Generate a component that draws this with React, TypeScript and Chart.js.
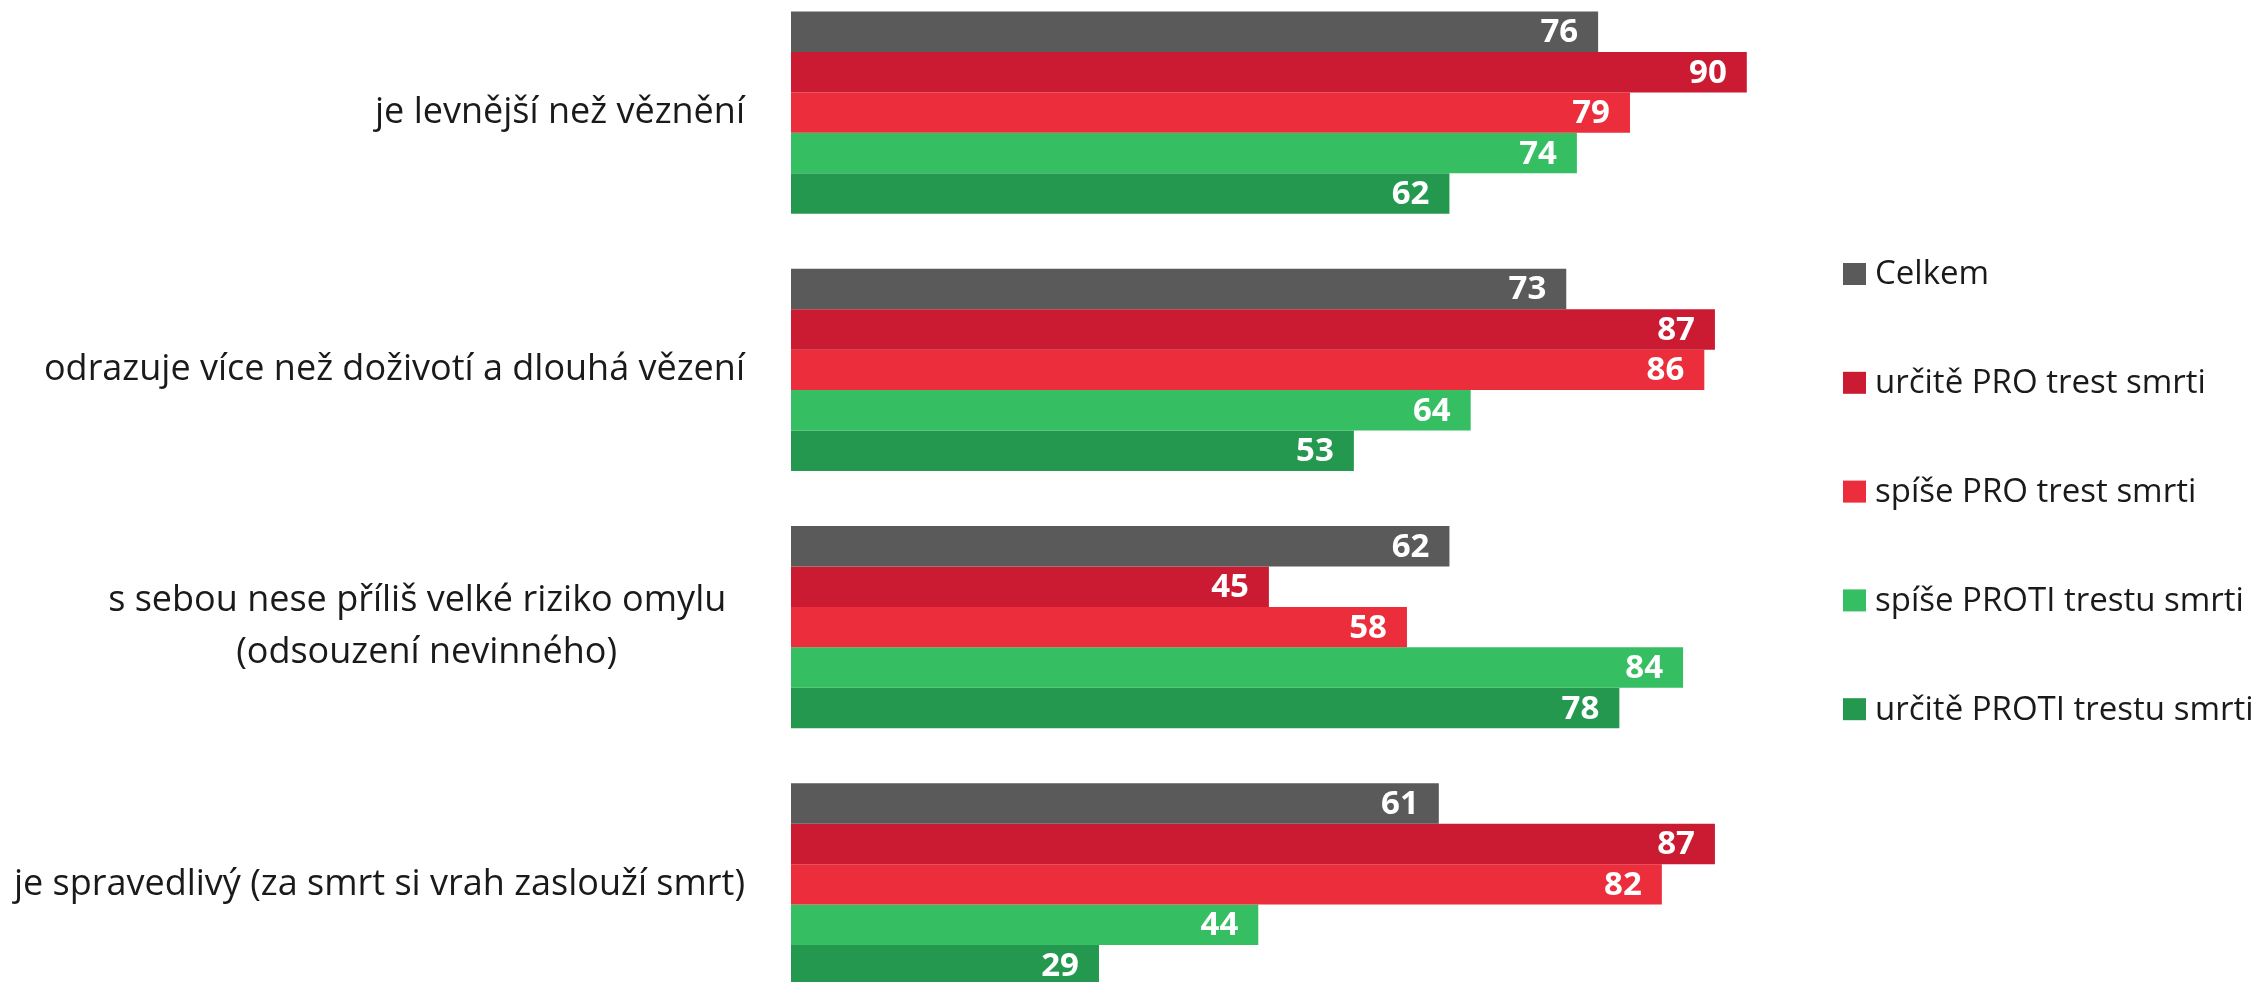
import React, { useEffect, useRef } from "react";
import { Chart, registerables } from "chart.js";

Chart.register(...registerables);

const categories: string[][] = [
  ["je levnější než věznění"],
  ["odrazuje více než doživotí a dlouhá vězení"],
  ["s sebou nese příliš velké riziko omylu  ", "(odsouzení nevinného)"],
  ["je spravedlivý (za smrt si vrah zaslouží smrt)"],
];

const seriesNames = [
  "Celkem",
  "určitě PRO trest smrti",
  "spíše PRO trest smrti",
  "spíše PROTI trestu smrti",
  "určitě PROTI trestu smrti",
];

const celkem = [76, 73, 62, 61];
const urcitePro = [90, 87, 45, 87];
const spisePro = [79, 86, 58, 82];
const spiseProti = [74, 64, 84, 44];
const urciteProti = [62, 53, 78, 29];

const seriesColors = ["#5A5A5A", "#CB1B33", "#EC2D3C", "#35BE62", "#25984F"];

const FONT = '"Open Sans", "Noto Sans", sans-serif';

const valueLabelPlugin = {
  id: "valueLabels",
  afterDatasetsDraw(chart: any) {
    const ctx = chart.ctx;
    ctx.save();
    ctx.font = `bold 33px ${FONT}`;
    ctx.fillStyle = "#FFFFFF";
    ctx.textAlign = "right";
    ctx.textBaseline = "middle";
    chart.data.datasets.forEach((ds: any, di: number) => {
      const meta = chart.getDatasetMeta(di);
      meta.data.forEach((el: any, i: number) => {
        ctx.fillText(String(ds.data[i]), el.x - 20, el.y + 1);
      });
    });
    ctx.restore();
  },
};

const categoryLabelPlugin = {
  id: "categoryLabels",
  afterDraw(chart: any) {
    const ctx = chart.ctx;
    const yScale = chart.scales.y;
    const rightX = chart.chartArea.left - 46;
    const lineHeight = 52;
    ctx.save();
    ctx.font = `36px ${FONT}`;
    ctx.fillStyle = "#1A1A1A";
    ctx.textBaseline = "middle";
    ctx.textAlign = "left";
    categories.forEach((lines, i) => {
      const yc = yScale.getPixelForValue(i);
      const maxW = Math.max(...lines.map((l) => ctx.measureText(l).width));
      const cx = rightX - maxW / 2;
      lines.forEach((line, li) => {
        const w = ctx.measureText(line).width;
        const y = yc + (li - (lines.length - 1) / 2) * lineHeight;
        ctx.fillText(line.trimEnd(), cx - w / 2, y);
      });
    });
    ctx.restore();
  },
};

const legendPlugin = {
  id: "customLegend",
  afterDraw(chart: any) {
    const ctx = chart.ctx;
    const x = chart.chartArea.right - 10;
    const startY = 290;
    const step = 108.8;
    ctx.save();
    ctx.font = `33px ${FONT}`;
    ctx.textBaseline = "middle";
    ctx.textAlign = "left";
    seriesNames.forEach((name, i) => {
      const y = startY + i * step;
      ctx.fillStyle = seriesColors[i];
      ctx.fillRect(x, y - 11, 23, 22);
      ctx.fillStyle = "#1A1A1A";
      ctx.fillText(name, x + 32, y + 1);
    });
    ctx.restore();
  },
};

export default function App() {
  const canvasRef = useRef<HTMLCanvasElement | null>(null);

  useEffect(() => {
    if (!canvasRef.current) return;
    const seriesValues = [celkem, urcitePro, spisePro, spiseProti, urciteProti];
    const chart = new Chart(canvasRef.current, {
      type: "bar",
      data: {
        labels: categories.map((c) => c.join(" ")),
        datasets: seriesNames.map((name, i) => ({
          label: name,
          data: seriesValues[i],
          backgroundColor: seriesColors[i],
          borderWidth: 0,
          categoryPercentage: 0.787,
          barPercentage: 1,
        })),
      },
      options: {
        indexAxis: "y",
        animation: false,
        responsive: true,
        maintainAspectRatio: false,
        layout: { padding: { left: 791, right: 406, top: 0, bottom: 0 } },
        scales: {
          x: { display: false, min: 0, max: 100, grid: { display: false } },
          y: { display: false, grid: { display: false } },
        },
        plugins: {
          legend: { display: false },
          tooltip: { enabled: false },
        },
      },
      plugins: [valueLabelPlugin, categoryLabelPlugin, legendPlugin],
    });
    return () => chart.destroy();
  }, []);

  return (
    <div
      style={{
        position: "fixed",
        left: 0,
        top: 0,
        width: 2259,
        height: 982,
        overflow: "hidden",
        background: "#FFFFFF",
      }}
    >
      <div style={{ position: "absolute", left: 0, top: -16, width: 2259, height: 1029 }}>
        <canvas ref={canvasRef} />
      </div>
    </div>
  );
}
